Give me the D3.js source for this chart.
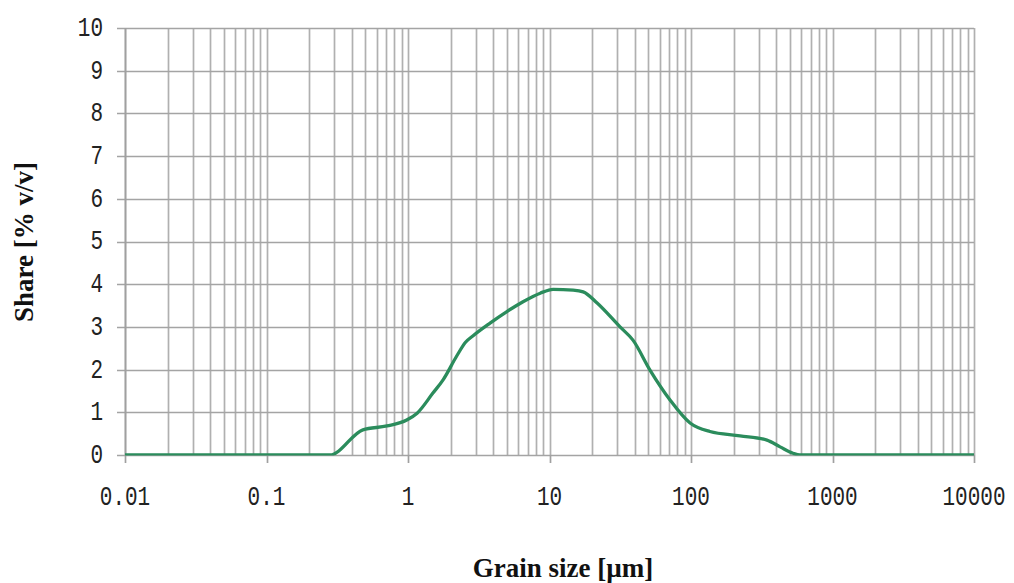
<!DOCTYPE html>
<html>
<head>
<meta charset="utf-8">
<script src="https://cdn.jsdelivr.net/npm/d3@7"></script>
<style>
  html, body { margin: 0; padding: 0; background: #fff; }
  svg { display: block; }
</style>
</head>
<body>
<svg id="chart" width="1014" height="583"></svg>
<script>
// ---- data ----
const grainSize = [0.01, 0.28, 0.48, 0.71, 0.98, 1.16, 1.5, 1.77, 2.22, 2.55, 2.9, 3.8, 5.0, 6.5, 8.6, 10.6, 14.7, 17.3, 21.7, 31.5, 38.9, 51.3, 71.1, 98.5, 136, 222, 344, 426, 526, 589, 10000];
const share     = [0,    0,    0.59, 0.68, 0.82, 0.98, 1.45, 1.76, 2.33, 2.64, 2.8, 3.09, 3.36, 3.59, 3.79, 3.88, 3.86, 3.82, 3.56, 3.0,  2.69, 1.99, 1.29, 0.75, 0.55, 0.45, 0.35, 0.19, 0.04, 0,   0];
const xTickLabels = ["0.01", "0.1", "1", "10", "100", "1000", "10000"];
const xTickValues = [0.01, 0.1, 1, 10, 100, 1000, 10000];
const yTickValues = [0, 1, 2, 3, 4, 5, 6, 7, 8, 9, 10];
const xTitle = "Grain size [µm]";
const yTitle = "Share [% v/v]";

// ---- layout ----
const W = 1014, H = 583;
const m = { left: 125, right: 1014 - 974, top: 28, bottom: 583 - 455 };
const svg = d3.select("#chart");

const x = d3.scaleLog().domain([0.01, 10000]).range([m.left, W - m.right]);
const y = d3.scaleLinear().domain([0, 10]).range([H - m.bottom, m.top]);

const gridColor = "#b0b0b0";

// vertical grid (all 1..9 multiples)
svg.append("g").selectAll("line")
  .data(x.ticks())
  .join("line")
  .attr("x1", d => Math.round(x(d)) + 0.5).attr("x2", d => Math.round(x(d)) + 0.5)
  .attr("y1", y(10)).attr("y2", y(0))
  .attr("stroke", gridColor).attr("stroke-width", 1.7);

// horizontal grid with small left tick
svg.append("g").selectAll("line")
  .data(yTickValues)
  .join("line")
  .attr("x1", m.left - 8).attr("x2", x(10000))
  .attr("y1", d => Math.round(y(d)) + 0.5).attr("y2", d => Math.round(y(d)) + 0.5)
  .attr("stroke", "#a4a4a4").attr("stroke-width", 1.7);

// y axis line
svg.append("line")
  .attr("x1", m.left + 0.5).attr("x2", m.left + 0.5)
  .attr("y1", y(10)).attr("y2", y(0))
  .attr("stroke", "#a0a0a0").attr("stroke-width", 1.7);

// x decade ticks below axis
svg.append("g").selectAll("line")
  .data(xTickValues)
  .join("line")
  .attr("x1", d => Math.round(x(d)) + 0.5).attr("x2", d => Math.round(x(d)) + 0.5)
  .attr("y1", y(0)).attr("y2", y(0) + 8)
  .attr("stroke", "#a0a0a0").attr("stroke-width", 1.7);

// tick labels
const tickFont = "'Liberation Mono', 'Courier New', monospace";
svg.append("g").selectAll("text")
  .data(xTickValues)
  .join("text")
  .attr("transform", d => `translate(${x(d)},${y(0) + 42}) scale(1,1.35)`)
  .attr("text-anchor", "middle")
  .attr("dominant-baseline", "central")
  .attr("font-family", tickFont).attr("font-size", 21)
  .attr("fill", "#222")
  .text((d, i) => xTickLabels[i]);

svg.append("g").selectAll("text")
  .data(yTickValues)
  .join("text")
  .attr("transform", d => `translate(103,${y(d)}) scale(1,1.35)`)
  .attr("text-anchor", "end")
  .attr("dominant-baseline", "central")
  .attr("font-family", tickFont).attr("font-size", 21)
  .attr("fill", "#222")
  .text(d => String(d));

// clip to plot area
svg.append("clipPath").attr("id", "plotclip")
  .append("rect").attr("x", m.left).attr("y", 0)
  .attr("width", x(10000) - m.left).attr("height", y(0) + 0.5);

// data line
const line = d3.line()
  .x((d, i) => x(grainSize[i]))
  .y((d, i) => y(share[i]))
  .curve(d3.curveMonotoneX);

svg.append("path")
  .datum(share)
  .attr("clip-path", "url(#plotclip)")
  .attr("d", line)
  .attr("fill", "none")
  .attr("stroke", "#2b8c5c")
  .attr("stroke-width", 3.3)
  .attr("stroke-linejoin", "round");

// titles
const titleFont = "'Liberation Serif', 'Times New Roman', serif";
svg.append("text")
  .attr("x", 563).attr("y", 577)
  .attr("text-anchor", "middle")
  .attr("font-family", titleFont).attr("font-weight", "bold").attr("font-size", 27)
  .attr("fill", "#111")
  .text(xTitle);

svg.append("text")
  .attr("transform", "translate(33,242) rotate(-90)")
  .attr("text-anchor", "middle")
  .attr("font-family", titleFont).attr("font-weight", "bold").attr("font-size", 27)
  .attr("fill", "#111")
  .text(yTitle);
</script>
</body>
</html>
